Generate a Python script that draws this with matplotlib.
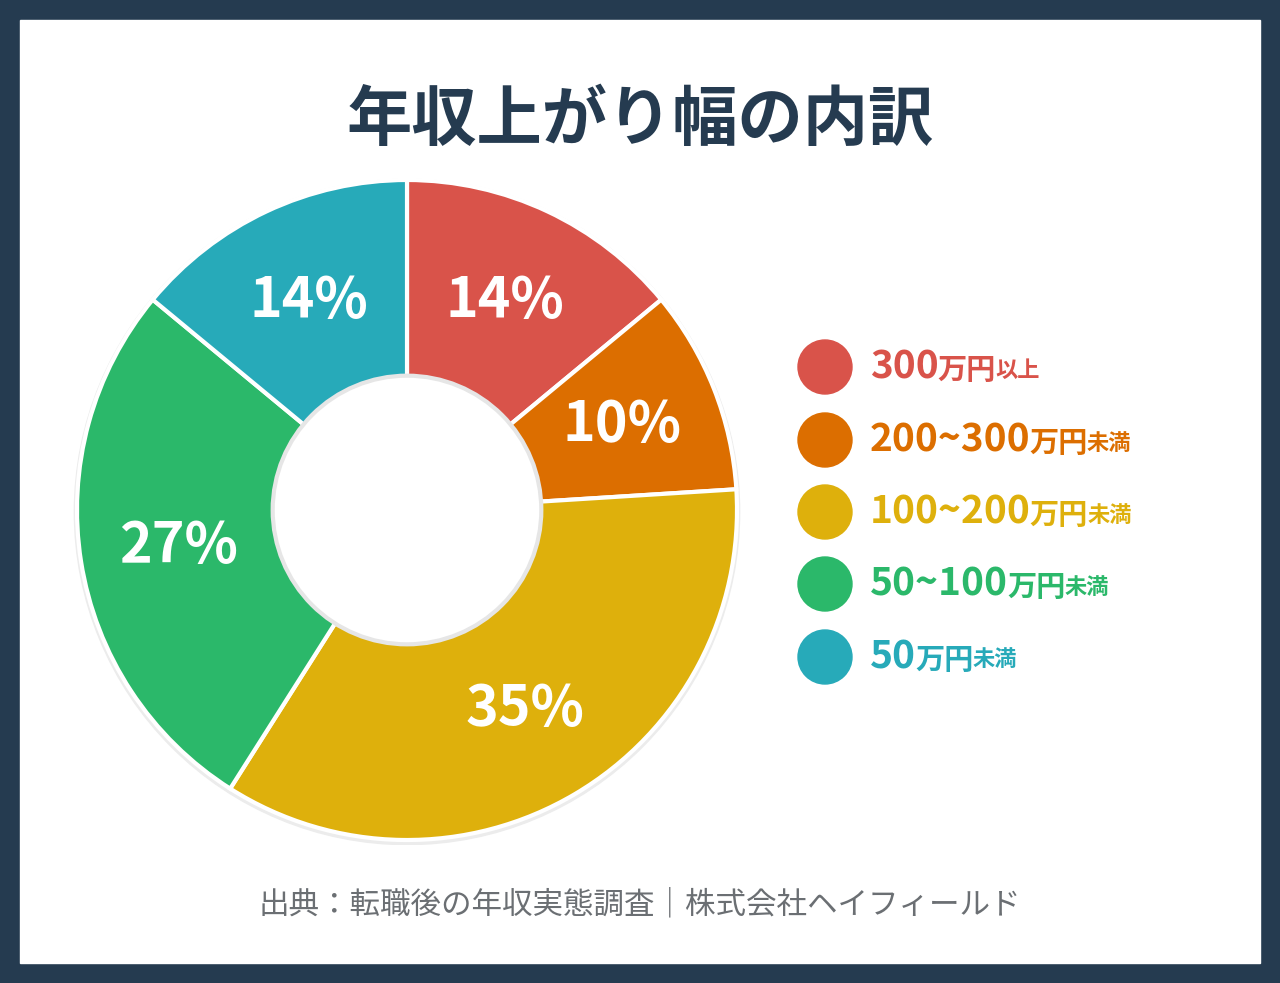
import matplotlib.pyplot as plt
from matplotlib.patches import Rectangle, Circle

FONT = "Noto Sans CJK JP"
plt.rcParams["font.family"] = FONT

# data
shares = [14, 10, 35, 27, 14]
colors = ["#d9534a", "#dc6e00", "#deb00c", "#2bb86a", "#27aab9"]
legend_nums = ["300", "200~300", "100~200", "50~100", "50"]
legend_tails = ["以上", "未満", "未満", "未満", "未満"]
title = "年収上がり幅の内訳"
source = "出典：転職後の年収実態調査｜株式会社ヘイフィールド"

W, H = 1280, 983
fig = plt.figure(figsize=(W / 100, H / 100), dpi=100)
fig.patch.set_facecolor("#253b50")

bg = fig.add_axes([0, 0, 1, 1])
bg.set_xlim(0, W)
bg.set_ylim(H, 0)
bg.axis("off")
bg.add_patch(Rectangle((20, 20), 1240, 943, color="white", zorder=0))
bg.text(640, 120, title, ha="center", va="center", fontsize=47,
        fontweight="bold", color="#253b50")
bg.text(640, 905, source, ha="center", va="center", fontsize=22, color="#6b6f73")

# donut
cx, cy, R = 407, 510, 330
pie_ax = fig.add_axes([(cx - R - 5) / W, (H - cy - R - 5) / H,
                       (2 * R + 10) / W, (2 * R + 10) / H])
pie_ax.axis("off")
pie_ax.add_patch(Circle((0, -0.006), 1.008, color="#ececec", zorder=0))
wedges, texts, autotexts = pie_ax.pie(
    shares, colors=colors, startangle=90, counterclock=False,
    autopct=lambda p: f"{p:.0f}%", pctdistance=0.7, radius=1,
    wedgeprops=dict(width=1 - 133 / R, edgecolor="white", linewidth=3),
    textprops=dict(color="white", fontsize=40, fontweight="bold"))
pie_ax.add_patch(Circle((0, 0), 133 / R + 0.004, facecolor="white",
                        edgecolor="#e6e6e6", linewidth=3, zorder=5))
pie_ax.set_xlim(-1 - 5 / R, 1 + 5 / R)
pie_ax.set_ylim(-1 - 5 / R, 1 + 5 / R)

# legend
fig.canvas.draw()
renderer = fig.canvas.get_renderer()
inv = bg.transData.inverted()
ys = [367, 440, 512, 584, 657]
for y, c, num, tail in zip(ys, colors, legend_nums, legend_tails):
    bg.add_patch(Circle((825, y), 27, color=c))
    x = 870
    for s, fs in [(num, 28), ("万円", 21), (tail, 16)]:
        t = bg.text(x, y + (0 if fs == 28 else 3), s, ha="left", va="center",
                    fontsize=fs, fontweight="bold", color=c)
        bb = t.get_window_extent(renderer)
        x = inv.transform((bb.x1, 0))[0] - 1

fig.savefig("out.png", dpi=100, facecolor=fig.get_facecolor())
